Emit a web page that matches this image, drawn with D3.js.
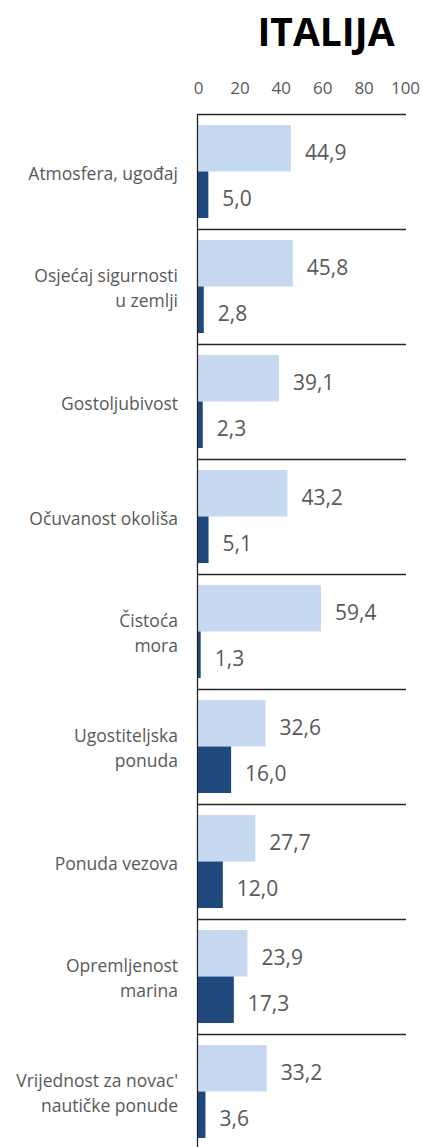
<!DOCTYPE html>
<html><head><meta charset="utf-8">
<script src="https://cdn.jsdelivr.net/npm/d3@7"></script>
<style>body{margin:0;background:#fff}svg{display:block}</style>
</head><body>
<script>
const categories = [
  ["Atmosfera, ugođaj"],
  ["Osjećaj sigurnosti","u zemlji"],
  ["Gostoljubivost"],
  ["Očuvanost okoliša"],
  ["Čistoća","mora"],
  ["Ugostiteljska","ponuda"],
  ["Ponuda vezova"],
  ["Opremljenost","marina"],
  ["Vrijednost za novac'","nautičke ponude"]
];
const seriesLight = [44.9, 45.8, 39.1, 43.2, 59.4, 32.6, 27.7, 23.9, 33.2];
const seriesDark = [5.0, 2.8, 2.3, 5.1, 1.3, 16.0, 12.0, 17.3, 3.6];
const tickValues = [0, 20, 40, 60, 80, 100];
const title = "ITALIJA";

const W = 423, H = 1147;
const svg = d3.select("body").append("svg").attr("width", W).attr("height", H);
const font = "'Open Sans', 'Noto Sans', sans-serif";
const grey = "#595959";

const x = d3.scaleLinear().domain([0, 100]).range([198, 405]);
const y = d3.scaleBand().domain(d3.range(categories.length)).range([114, 114 + 115 * categories.length]).paddingInner(0).paddingOuter(0);
const ys = d3.scaleBand().domain(["light", "dark"]).range([0, y.bandwidth()]).paddingInner(0).paddingOuter(0.2366);

svg.append("text").attr("x", 326).attr("y", 46).attr("text-anchor", "middle")
  .attr("font-family", font).attr("font-weight", 700).attr("font-size", 39).attr("fill", "#000").text(title);

// top axis labels
const axis = d3.axisTop(x).tickValues(tickValues).tickSize(0).tickPadding(0).tickFormat(d3.format("d"));
const ag = svg.append("g").attr("transform", "translate(0,94)").call(axis);
ag.select(".domain").remove();
ag.selectAll("text").attr("font-family", font).attr("font-size", 17).attr("fill", grey);

const g = svg.append("g");
categories.forEach((c, i) => {
  const y0 = y(i);
  g.append("rect").attr("x", x(0)).attr("y", y0 + ys("light")).attr("width", x(seriesLight[i]) - x(0)).attr("height", ys.bandwidth()).attr("fill", "#C6D9F1");
  g.append("rect").attr("x", x(0)).attr("y", y0 + ys("dark")).attr("width", x(seriesDark[i]) - x(0)).attr("height", ys.bandwidth()).attr("fill", "#1F497D");
  const fmt = v => v.toFixed(1).replace(".", ",");
  g.append("text").attr("x", x(seriesLight[i]) + 14).attr("y", y0 + ys("light") + ys.bandwidth() / 2 + 4).attr("dy", "0.35em")
    .attr("font-family", font).attr("font-size", 21).attr("fill", grey).text(fmt(seriesLight[i]));
  g.append("text").attr("x", x(seriesDark[i]) + 14).attr("y", y0 + ys("dark") + ys.bandwidth() / 2 + 4).attr("dy", "0.35em")
    .attr("font-family", font).attr("font-size", 21).attr("fill", grey).text(fmt(seriesDark[i]));
  // separator line
  g.append("line").attr("x1", x(0)).attr("x2", 406).attr("y1", y0 + 0.5).attr("y2", y0 + 0.5).attr("stroke", "#262626").attr("stroke-width", 1.3);
  // category label
  const cy = y0 + y.bandwidth() / 2;
  const lh = 25;
  c.forEach((line, k) => {
    g.append("text").attr("x", 178).attr("y", cy + (k - (c.length - 1) / 2) * lh + 2).attr("dy", "0.35em").attr("text-anchor", "end")
      .attr("font-family", font).attr("font-size", 17.5).attr("fill", grey).text(line);
  });
});
g.append("line").attr("x1", x(0) - 0.5).attr("x2", x(0) - 0.5).attr("y1", 114).attr("y2", H).attr("stroke", "#262626").attr("stroke-width", 1.3);
</script>
</body></html>
